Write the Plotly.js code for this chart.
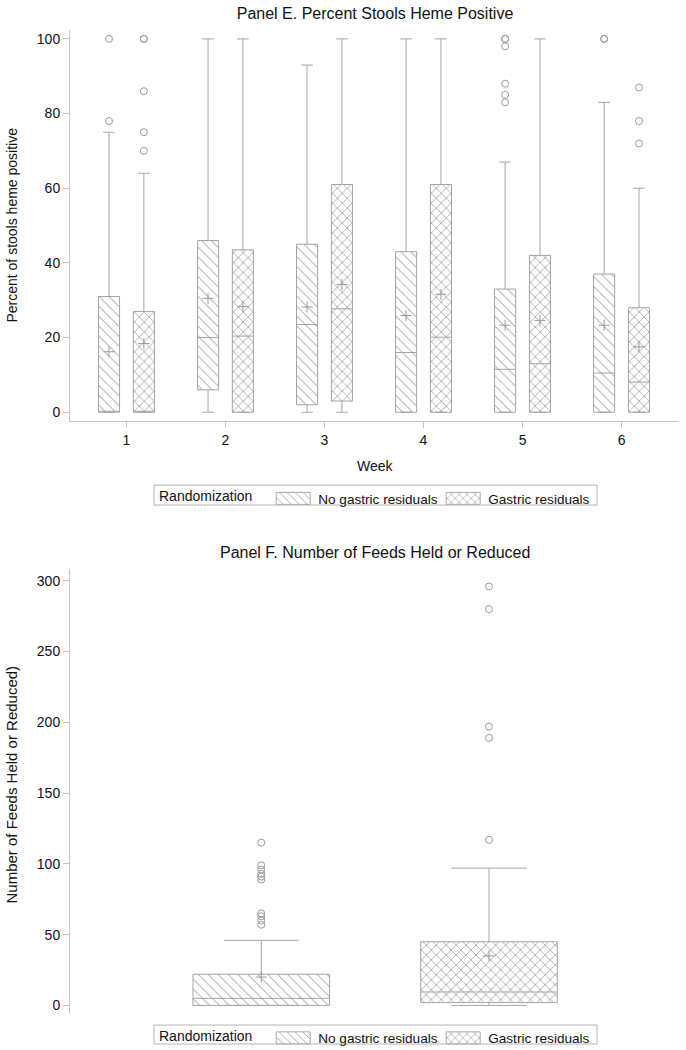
<!DOCTYPE html>
<html><head><meta charset="utf-8">
<script src="https://cdn.plot.ly/plotly-3.0.1.min.js"></script>
<style>html,body{margin:0;padding:0;background:#fff}#chart{width:686px;height:1050px}</style>
</head><body><div id="chart"></div>
<script>
// ---------- Panel E: Percent stools heme positive, by week ----------
const weeks = [1, 2, 3, 4, 5, 6];
const weekLabels = ['1', '2', '3', '4', '5', '6'];
const groupNames = ['No gastric residuals', 'Gastric residuals'];

const eNoQ1 = [0, 6, 2, 0, 0, 0];
const eNoMedian = [0, 20, 23.5, 16, 11.5, 10.5];
const eNoQ3 = [31, 46, 45, 43, 33, 37];
const eNoLow = [0, 0, 0, 0, 0, 0];
const eNoHigh = [75, 100, 93, 100, 67, 83];
const eNoMean = [16.2, 30.5, 28.2, 25.9, 23.3, 23.3];
const eNoOutWeek = [1, 1, 5, 5, 5, 5, 5, 5, 6, 6];
const eNoOutValue = [78, 100, 83, 85, 88, 98, 100, 100, 100, 100];

const eGrQ1 = [0, 0, 3, 0, 0, 0];
const eGrMedian = [0, 20.4, 27.7, 20.1, 13, 8.1];
const eGrQ3 = [27, 43.5, 61, 61, 42, 28];
const eGrLow = [0, 0, 0, 0, 0, 0];
const eGrHigh = [64, 100, 100, 100, 100, 60];
const eGrMean = [18.4, 28.3, 34.2, 31.6, 24.6, 17.5];
const eGrOutWeek = [1, 1, 1, 1, 1, 6, 6, 6];
const eGrOutValue = [70, 75, 86, 100, 100, 72, 78, 87];

// ---------- Panel F: Number of feeds held or reduced ----------
const fPos = [1, 2];
const fQ1 = [0, 2];
const fMedian = [5, 9.5];
const fQ3 = [22, 45];
const fLow = [0, 0];
const fHigh = [46, 97];
const fMean = [20, 35];
const fNoOutliers = [115, 99, 96, 93, 91, 89, 65, 63, 60, 57];
const fGrOutliers = [117, 189, 197, 280, 296];

// ---------- styling ----------
const FONT = 'Liberation Sans, Arial, sans-serif';
const LINE = '#a4a4a4';
const HATCH = '#8e8e8e';
const patterns = [
  {shape: '\\', fgcolor: HATCH, bgcolor: '#ffffff', size: 7, solidity: 0.13},
  {shape: 'x', fgcolor: HATCH, bgcolor: '#ffffff', size: 7, solidity: 0.18}
];
const eOff = 0.176, eW = 0.213, fW = 0.6;

const traces = [];
function addGroup(pos, q1, med, q3, lo, hi, mean, outX, outY, gi, xa, ya, w, leg) {
  traces.push({
    type: 'bar', x: pos, base: q1, y: q3.map((v, i) => v - q1[i]), width: w,
    marker: {color: '#ffffff', pattern: patterns[gi], line: {width: 0}},
    name: groupNames[gi], legend: leg, showlegend: true,
    xaxis: xa, yaxis: ya, hoverinfo: 'skip'
  });
  traces.push({
    type: 'box', x: pos, q1: q1, median: med, q3: q3, lowerfence: lo, upperfence: hi,
    width: w, whiskerwidth: 0.55, boxpoints: false,
    line: {color: LINE, width: 1}, fillcolor: 'rgba(0,0,0,0)',
    showlegend: false, xaxis: xa, yaxis: ya, hoverinfo: 'skip'
  });
  traces.push({
    type: 'scatter', mode: 'markers', x: pos, y: mean,
    marker: {symbol: 'cross-thin', size: 8, line: {color: '#9a9a9a', width: 1}},
    showlegend: false, xaxis: xa, yaxis: ya, hoverinfo: 'skip'
  });
  traces.push({
    type: 'scatter', mode: 'markers', x: outX, y: outY,
    marker: {symbol: 'circle-open', size: 7, color: '#9a9a9a', line: {width: 1}},
    showlegend: false, xaxis: xa, yaxis: ya, hoverinfo: 'skip'
  });
}

addGroup(weeks.map(w => w - eOff), eNoQ1, eNoMedian, eNoQ3, eNoLow, eNoHigh, eNoMean,
  eNoOutWeek.map(w => w - eOff), eNoOutValue, 0, 'x', 'y', eW, 'legend');
addGroup(weeks.map(w => w + eOff), eGrQ1, eGrMedian, eGrQ3, eGrLow, eGrHigh, eGrMean,
  eGrOutWeek.map(w => w + eOff), eGrOutValue, 1, 'x', 'y', eW, 'legend');
addGroup([fPos[0]], [fQ1[0]], [fMedian[0]], [fQ3[0]], [fLow[0]], [fHigh[0]], [fMean[0]],
  fNoOutliers.map(() => fPos[0]), fNoOutliers, 0, 'x2', 'y2', fW, 'legend2');
addGroup([fPos[1]], [fQ1[1]], [fMedian[1]], [fQ3[1]], [fLow[1]], [fHigh[1]], [fMean[1]],
  fGrOutliers.map(() => fPos[1]), fGrOutliers, 1, 'x2', 'y2', fW, 'legend2');

const W = 686, H = 1050;
const px = v => v / W, py = v => 1 - v / H;
const axisCommon = {
  showgrid: false, zeroline: false, showline: true, linecolor: '#c4c4c4', linewidth: 1,
  ticks: 'outside', ticklen: 6, tickcolor: '#c4c4c4', tickwidth: 1,
  tickfont: {family: FONT, size: 14, color: '#111'}, fixedrange: true
};
const legendCommon = {
  orientation: 'h', xanchor: 'left', yanchor: 'middle', x: px(157),
  borderwidth: 0, bgcolor: 'rgba(0,0,0,0)',
  font: {family: FONT, size: 13.6, color: '#111'},
  title: {text: 'Randomization&nbsp;&nbsp;', side: 'left', font: {family: FONT, size: 14, color: '#111'}},
  itemwidth: 40, entrywidth: 115, entrywidthmode: 'pixels', traceorder: 'normal'
};
const legendBox = (y0, y1) => ({type: 'rect', xref: 'paper', yref: 'paper',
  x0: px(154), x1: px(597), y0: py(y1), y1: py(y0), line: {color: '#b4b4b4', width: 1},
  fillcolor: 'rgba(0,0,0,0)', layer: 'below'});

const layout = {
  width: W, height: H, margin: {l: 0, r: 0, t: 0, b: 0},
  paper_bgcolor: '#fff', plot_bgcolor: '#fff',
  font: {family: FONT, color: '#111'},
  barmode: 'overlay', boxmode: 'overlay',
  title: {text: 'Panel E. Percent Stools Heme Positive', x: px(375), xanchor: 'center',
    xref: 'paper', y: py(13), yanchor: 'middle', yref: 'paper', font: {family: FONT, size: 16, color: '#111'}},
  xaxis: Object.assign({}, axisCommon, {domain: [px(70), px(678)], range: [0.43, 6.57],
    tickvals: weeks, ticktext: weekLabels, anchor: 'y'}),
  yaxis: Object.assign({}, axisCommon, {domain: [py(422), py(30)], range: [-2.4, 102.4],
    tickvals: [0, 20, 40, 60, 80, 100], anchor: 'x'}),
  xaxis2: {domain: [px(70), px(678)], range: [0.16, 2.83], visible: false, anchor: 'y2', fixedrange: true},
  yaxis2: Object.assign({}, axisCommon, {domain: [py(1015), py(570)], range: [-5.4, 308.4],
    tickvals: [0, 50, 100, 150, 200, 250, 300], anchor: 'x2'}),
  legend: Object.assign({}, legendCommon, {y: py(496)}),
  legend2: Object.assign({}, legendCommon, {y: py(1036.5)}),
  shapes: [legendBox(486, 506), legendBox(1027, 1046)],
  annotations: [
    {text: 'Percent of stools heme positive', textangle: -90, x: px(12), y: py(226),
      xref: 'paper', yref: 'paper', showarrow: false, xanchor: 'center', yanchor: 'middle',
      font: {family: FONT, size: 14, color: '#111'}},
    {text: 'Week', x: px(375), y: py(467), xref: 'paper', yref: 'paper', showarrow: false,
      xanchor: 'center', yanchor: 'middle', font: {family: FONT, size: 14, color: '#111'}},
    {text: 'Panel F. Number of Feeds Held or Reduced', x: px(375), y: py(554),
      xref: 'paper', yref: 'paper', showarrow: false, xanchor: 'center', yanchor: 'middle',
      font: {family: FONT, size: 16, color: '#111'}},
    {text: 'Number of Feeds Held or Reduced)', textangle: -90, x: px(12), y: py(786),
      xref: 'paper', yref: 'paper', showarrow: false, xanchor: 'center', yanchor: 'middle',
      font: {family: FONT, size: 15, color: '#111'}}
  ]
};

Plotly.newPlot('chart', traces, layout, {displayModeBar: false, staticPlot: true}).then(() => {
  // widen the legend swatches to the reference's rectangular key shape
  document.querySelectorAll('.legendpoints path').forEach(p => {
    p.setAttribute('d', 'M-17,6V-6H17V6Z');
    p.style.stroke = '#a8a8a8';
    p.style.strokeWidth = '1px';
  });
  // nudge legend contents to sit centred inside their frames
  document.querySelectorAll('g.legend, g.legend2').forEach(g => {
    g.setAttribute('transform', (g.getAttribute('transform') || '') + ' translate(0,3.5)');
  });
});
</script></body></html>
